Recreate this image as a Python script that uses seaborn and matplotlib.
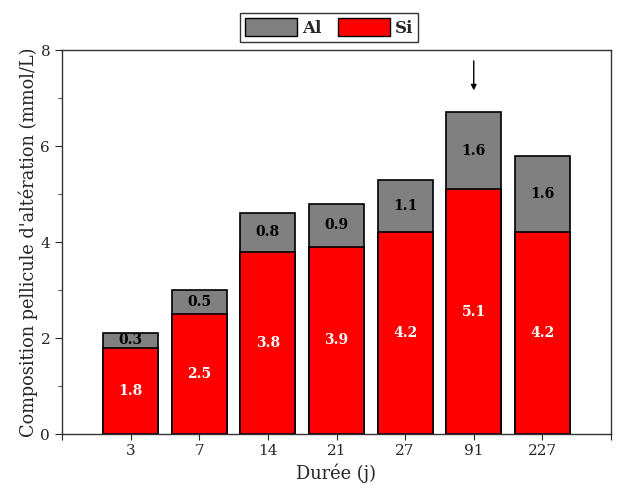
import matplotlib
matplotlib.use("Agg")
import matplotlib.pyplot as plt
import seaborn as sns
import pandas as pd
from matplotlib.patches import Patch
from matplotlib.ticker import MultipleLocator

durations = ["3", "7", "14", "21", "27", "91", "227"]
si = [1.8, 2.5, 3.8, 3.9, 4.2, 5.1, 4.2]
al = [0.3, 0.5, 0.8, 0.9, 1.1, 1.6, 1.6]

sns.set_style("ticks")
plt.rcParams["font.family"] = ["DejaVu Serif"]

df = pd.DataFrame({"Durée": durations, "Si": si, "Al": al})
df["Total"] = df["Si"] + df["Al"]

fig = plt.figure(figsize=(6.19, 4.90), dpi=100)
ax = fig.add_axes([62/619, 56/490, (611-62)/619, (434-50)/490])

sns.barplot(data=df, x="Durée", y="Total", order=durations, color="#808080",
            saturation=1, edgecolor="black", linewidth=1.2, width=0.8, ax=ax)
sns.barplot(data=df, x="Durée", y="Si", order=durations, color="#ff0000",
            saturation=1, edgecolor="black", linewidth=1.2, width=0.8, ax=ax)

for i, (s, a) in enumerate(zip(si, al)):
    ax.text(i, s / 2, f"{s}", ha="center", va="center", color="white",
            fontsize=10, fontweight="bold")
    ax.text(i, s + a / 2, f"{a}", ha="center", va="center", color="black",
            fontsize=10, fontweight="bold")

ax.set_xlim(-1, 7)
ax.set_ylim(0, 8)
ax.set_xticks(range(-1, 8))
ax.set_xticklabels([""] + durations + [""], fontsize=11)
ax.set_yticks([0, 2, 4, 6, 8])
ax.yaxis.set_minor_locator(MultipleLocator(1))
ax.tick_params(axis="y", which="major", length=5, labelsize=11)
ax.tick_params(axis="y", which="minor", length=3)
ax.tick_params(axis="x", length=4)
ax.set_xlabel("Durée (j)", fontsize=12.8)
ax.set_ylabel("Composition pellicule d'altération (mmol/L)", fontsize=12.8, labelpad=2)
for sp in ax.spines.values():
    sp.set_visible(True)
    sp.set_linewidth(1.0)
    sp.set_color("#333333")

ax.annotate("", xy=(5, 7.1), xytext=(5, 7.83),
            arrowprops=dict(arrowstyle="-|>", color="black", lw=1, mutation_scale=8))

handles = [Patch(facecolor="#808080", edgecolor="black", label="Al"),
           Patch(facecolor="#ff0000", edgecolor="black", label="Si")]
leg = ax.legend(handles=handles, loc="lower center", bbox_to_anchor=(0.487, 1.0),
                ncol=2, frameon=True, fancybox=False, edgecolor="black",
                fontsize=12, handlelength=3.1, handleheight=1.3,
                columnspacing=1.0, handletextpad=0.3, borderpad=0.3,
                borderaxespad=0.5)
leg.get_frame().set_linewidth(1.0)
for t in leg.get_texts():
    t.set_fontweight("bold")

fig.savefig("out.png", dpi=100)
